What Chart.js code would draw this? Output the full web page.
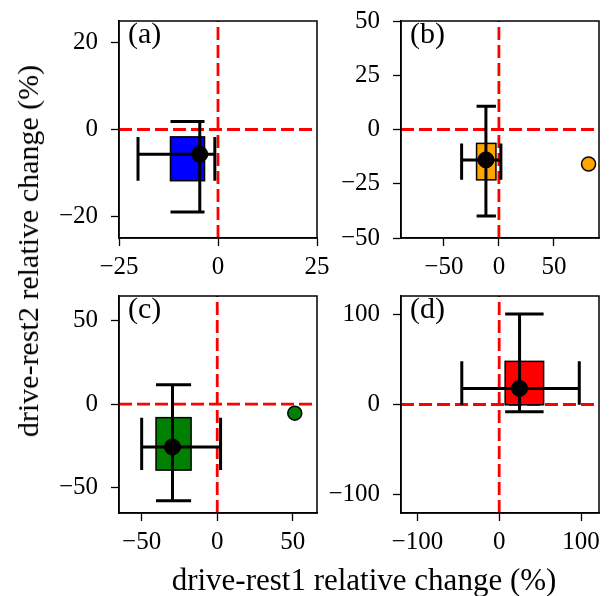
<!DOCTYPE html>
<html>
<head>
<meta charset="utf-8">
<script src="https://cdn.jsdelivr.net/npm/chart.js@4.4.0/dist/chart.umd.min.js"></script>
<style>
  html, body { margin: 0; padding: 0; background: #fff; }
  #fig { position: relative; width: 613px; height: 596px; overflow: hidden; }
  #fig canvas { position: absolute; }
  .lbl { position: absolute; font-family: 'Liberation Serif', serif; color: #000; white-space: nowrap; line-height: 1; }
</style>
</head>
<body>
<div id="fig"></div>
<script>
// values, one entry per panel (a)..(d)
const panelNames = ['(a)', '(b)', '(c)', '(d)'];
const boxColors = ['#0000ff', '#ffa500', '#008000', '#ff0000'];
const medianX = [-4.6, -11.8, -29.6, 24.9];
const medianY = [-5.7, -14.0, -25.6, 17.8];
const q1X = [-12.0, -20.3, -40.5, 7.3];
const q3X = [-3.4, -2.7, -17.3, 54.3];
const q1Y = [-11.8, -23.2, -39.4, -0.3];
const q3Y = [-1.7, -6.4, -8.1, 47.7];
const whiskerLowX = [-20.2, -33.9, -50.0, -45.7];
const whiskerHighX = [-0.8, 1.8, 2.2, 97.9];
const whiskerLowY = [-19.0, -39.9, -57.7, -8.1];
const whiskerHighY = [1.85, 10.7, 11.5, 100.2];
const outlierX = [[], [81.5], [51.3], []];
const outlierY = [[], [-15.9], [-5.4], []];
const xLimits = [[-25, 25], [-89, 91], [-65, 66], [-120, 122]];
const yLimits = [[-25, 25], [-50, 50], [-65, 64.5], [-120, 120]];
const xTickValues = [[-25, 0, 25], [-50, 0, 50], [-50, 0, 50], [-100, 0, 100]];
const yTickValues = [[-20, 0, 20], [-50, -25, 0, 25, 50], [-50, 0, 50], [-100, 0, 100]];

const xTitle = 'drive-rest1 relative change (%)';
const yTitle = 'drive-rest2 relative change (%)';

// where each axes box sits in the figure
const plotRects = [
  { l: 119, t: 13, w: 198, h: 225 },
  { l: 401, t: 13, w: 198, h: 225 },
  { l: 119, t: 288, w: 198, h: 225 },
  { l: 401, t: 288, w: 198, h: 225 }
];
const padLeft = 100, padTop = 20, padRight = 25, padBottom = 50;
const serif = "'Liberation Serif', 'Times New Roman', serif";

const fmt = v => (v < 0 ? '\u2212' + Math.abs(v) : String(v));

const boxPlot = {
  id: 'boxPlot',
  beforeDatasetsDraw(chart, args, opts) {
    const { ctx, chartArea: a } = chart;
    const x = chart.scales.x, y = chart.scales.y;
    const i = opts.panel;
    ctx.save();

    // dashed zero lines
    ctx.strokeStyle = '#ff0000';
    ctx.lineWidth = 2.8;
    ctx.setLineDash([13, 5]);
    ctx.beginPath();
    ctx.moveTo(a.left, y.getPixelForValue(0));
    ctx.lineTo(a.right, y.getPixelForValue(0));
    ctx.stroke();
    ctx.beginPath();
    ctx.moveTo(x.getPixelForValue(0), a.bottom);
    ctx.lineTo(x.getPixelForValue(0), a.top);
    ctx.stroke();
    ctx.setLineDash([]);

    // interquartile box
    const x1 = x.getPixelForValue(q1X[i]), x3 = x.getPixelForValue(q3X[i]);
    const y1 = y.getPixelForValue(q1Y[i]), y3 = y.getPixelForValue(q3Y[i]);
    ctx.fillStyle = boxColors[i];
    ctx.fillRect(x1, y3, x3 - x1, y1 - y3);
    ctx.strokeStyle = '#000';
    ctx.lineWidth = 1.5;
    ctx.strokeRect(x1, y3, x3 - x1, y1 - y3);

    // whiskers through the median, caps as wide as the box
    const mx = x.getPixelForValue(medianX[i]), my = y.getPixelForValue(medianY[i]);
    const wx0 = x.getPixelForValue(whiskerLowX[i]), wx1 = x.getPixelForValue(whiskerHighX[i]);
    const wy0 = y.getPixelForValue(whiskerLowY[i]), wy1 = y.getPixelForValue(whiskerHighY[i]);
    ctx.lineWidth = 3;
    ctx.lineCap = 'butt';
    ctx.beginPath();
    ctx.moveTo(wx0, my); ctx.lineTo(wx1, my);
    ctx.moveTo(wx0, y3); ctx.lineTo(wx0, y1);
    ctx.moveTo(wx1, y3); ctx.lineTo(wx1, y1);
    ctx.moveTo(mx, wy0); ctx.lineTo(mx, wy1);
    ctx.moveTo(x1, wy0); ctx.lineTo(x3, wy0);
    ctx.moveTo(x1, wy1); ctx.lineTo(x3, wy1);
    ctx.stroke();
    ctx.restore();
  },
  afterDraw(chart) {
    const { ctx, chartArea: a } = chart;
    ctx.save();
    ctx.strokeStyle = '#000';
    ctx.lineWidth = 1.5;
    ctx.strokeRect(a.left, a.top, a.right - a.left, a.bottom - a.top);
    ctx.restore();
  }
};

const fig = document.getElementById('fig');

plotRects.forEach((r, i) => {
  const cv = document.createElement('canvas');
  cv.width = r.w + padLeft + padRight;
  cv.height = r.h + padTop + padBottom;
  cv.style.left = (r.l - padLeft) + 'px';
  cv.style.top = (r.t - padTop) + 'px';
  fig.appendChild(cv);

  const lab = document.createElement('div');
  lab.className = 'lbl';
  lab.style.fontSize = '30px';
  lab.style.left = (r.l + 9) + 'px';
  lab.style.top = (r.t + 5) + 'px';
  lab.textContent = panelNames[i];
  fig.appendChild(lab);

  const tickFont = { family: serif, size: 25 };
  new Chart(cv, {
    type: 'scatter',
    data: {
      datasets: [
        {
          data: [{ x: medianX[i], y: medianY[i] }],
          pointRadius: 8,
          backgroundColor: '#000',
          borderColor: '#000',
          borderWidth: 1
        },
        {
          data: outlierX[i].map((v, k) => ({ x: v, y: outlierY[i][k] })),
          pointRadius: 7,
          backgroundColor: boxColors[i],
          borderColor: '#000',
          borderWidth: 1.5
        }
      ]
    },
    options: {
      responsive: false,
      animation: false,
      events: [],
      layout: { padding: { left: 0, top: padTop, right: padRight, bottom: 0 } },
      plugins: { legend: { display: false }, tooltip: { enabled: false }, boxPlot: { panel: i } },
      scales: {
        x: {
          type: 'linear',
          min: xLimits[i][0],
          max: xLimits[i][1],
          afterBuildTicks: s => { s.ticks = xTickValues[i].map(v => ({ value: v })); },
          afterFit: s => { s.height = padBottom; },
          grid: { drawOnChartArea: false, tickLength: 8, tickColor: '#000', tickWidth: 1.3 },
          border: { display: true, color: '#000', width: 1.5 },
          ticks: { font: tickFont, color: '#000', padding: 6, maxRotation: 0, autoSkip: false, callback: fmt }
        },
        y: {
          type: 'linear',
          min: yLimits[i][0],
          max: yLimits[i][1],
          afterBuildTicks: s => { s.ticks = yTickValues[i].map(v => ({ value: v })); },
          afterFit: s => { s.width = padLeft; },
          grid: { drawOnChartArea: false, tickLength: 8, tickColor: '#000', tickWidth: 1.3 },
          border: { display: true, color: '#000', width: 1.5 },
          ticks: { font: tickFont, color: '#000', padding: 13, autoSkip: false, callback: fmt }
        }
      }
    },
    plugins: [boxPlot]
  });
});

const xl = document.createElement('div');
xl.className = 'lbl';
xl.style.fontSize = '31px';
xl.style.left = '364px';
xl.style.top = '564px';
xl.style.transform = 'translateX(-50%)';
xl.textContent = xTitle;
fig.appendChild(xl);

const yl = document.createElement('div');
yl.className = 'lbl';
yl.style.fontSize = '30px';
yl.style.left = '28px';
yl.style.top = '251px';
yl.style.transform = 'translate(-50%, -50%) rotate(-90deg)';
yl.textContent = yTitle;
fig.appendChild(yl);
</script>
</body>
</html>
